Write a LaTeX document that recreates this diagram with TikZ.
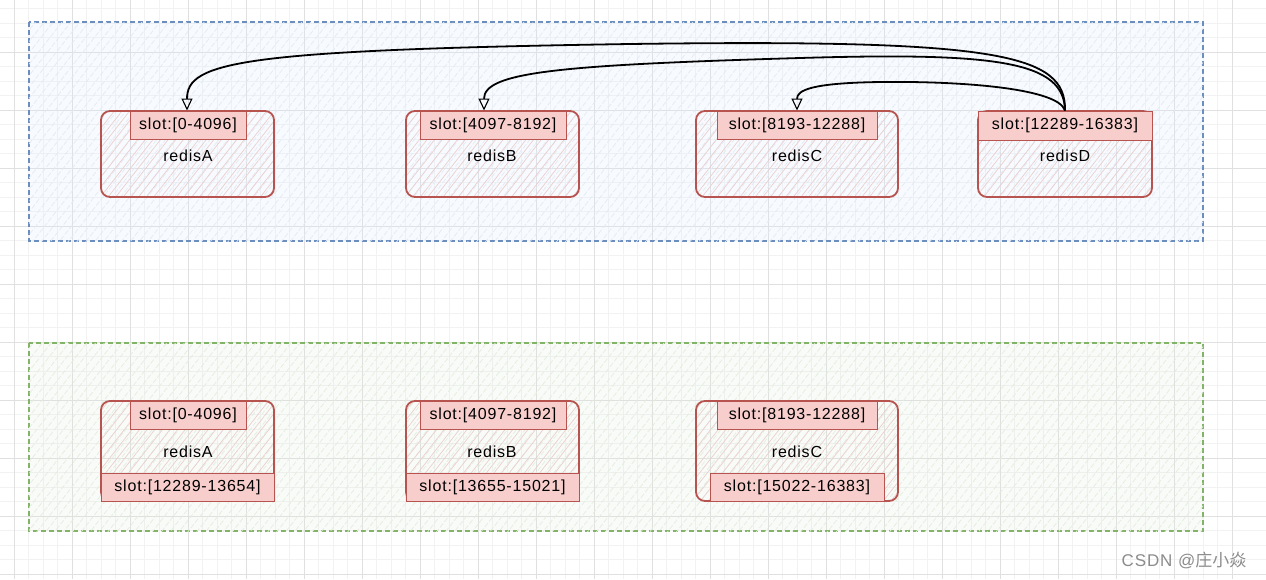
\documentclass[tikz,border=0pt]{standalone}
\usepackage{fontspec}
\setmainfont{Liberation Sans}[LetterSpace=5]
\newfontfamily\cjkfont{Noto Sans CJK SC}
\usetikzlibrary{patterns.meta,arrows.meta}
\definecolor{redline}{HTML}{B85450}
\definecolor{redfill}{HTML}{F8CECC}
\definecolor{blueline}{HTML}{6C8EBF}
\definecolor{bluefill}{HTML}{DAE8FC}
\definecolor{greenline}{HTML}{82B366}
\definecolor{greenfill}{HTML}{D5E8D4}
\tikzset{
  gridminor/.style={draw=black!5,line width=0.8pt},
  gridmajor/.style={draw=black!12,line width=0.9pt},
  bluecont/.style={draw=blueline,line width=1.3pt,dash pattern=on 5pt off 3pt,
    fill=bluefill,fill opacity=0.2,postaction={pattern={Lines[angle=52,distance=7pt,line width=0.7pt]},pattern color=blueline!18}},
  greencont/.style={draw=greenline,line width=1.3pt,dash pattern=on 5pt off 3pt,
    fill=greenfill,fill opacity=0.15,postaction={pattern={Lines[angle=52,distance=7pt,line width=0.7pt]},pattern color=greenline!22}},
  redbox/.style={draw=redline,line width=1.8pt,rounded corners=9pt,inner sep=0pt,
    pattern={Lines[angle=52,distance=6pt,line width=0.7pt]},pattern color=redline!28},
  hdr/.style={draw=redline,line width=1pt,fill=redfill,inner sep=0pt,minimum height=28pt,font=\fontsize{16}{18}\selectfont},
  lbl/.style={inner sep=0pt,font=\fontsize{16}{18}\selectfont},
  link/.style={draw=black,line width=1.8pt,-{Triangle[open,length=12pt,width=11pt,line width=1.1pt]}}
}
\begin{document}
\begin{tikzpicture}[x=1pt,y=-1pt]
\useasboundingbox (0,0) rectangle (1266,579);
\fill[white] (0,0) rectangle (1266,579);
% grid
\foreach \k in {0,...,88}{
  \pgfmathsetmacro{\gx}{14.3+(\k-4)*14.5}
  \draw[gridminor] (\gx,0) -- (\gx,579);
}
\foreach \k in {0,...,42}{
  \pgfmathsetmacro{\gy}{-5.7+\k*14.5}
  \draw[gridminor] (0,\gy) -- (1266,\gy);
}
\foreach \k in {0,...,22}{
  \pgfmathsetmacro{\gx}{14.3+(\k-1)*58}
  \draw[gridmajor] (\gx,0) -- (\gx,579);
}
\foreach \k in {0,...,10}{
  \pgfmathsetmacro{\gy}{-5.7+\k*58}
  \draw[gridmajor] (0,\gy) -- (1266,\gy);
}
% containers
\path[bluecont] (29,22) rectangle (1203,241);
\path[greencont] (29,343) rectangle (1203,531);

% ---- top row ----
\node[redbox,minimum width=173pt,minimum height=86pt] (bA) at (187.5,154) {};
\node[redbox,minimum width=173pt,minimum height=86pt] (bB) at (492.5,154) {};
\node[redbox,minimum width=202pt,minimum height=86pt] (bC) at (797,154) {};
\node[redbox,minimum width=174pt,minimum height=86pt] (bD) at (1065,154) {};
\node[hdr,minimum width=116pt] (hA) at (188,125) {slot:[0-4096]};
\node[hdr,minimum width=146pt] (hB) at (493,125) {slot:[4097-8192]};
\node[hdr,minimum width=160pt] (hC) at (797,125) {slot:[8193-12288]};
\node[hdr,minimum width=174pt,minimum height=29pt] (hD) at (1065,125.5) {slot:[12289-16383]};
\node[lbl] (lA) at (188,156) {redisA};
\node[lbl] (lB) at (492,156) {redisB};
\node[lbl] (lC) at (797,156) {redisC};
\node[lbl] (lD) at (1065,156) {redisD};

% arrows
\draw[link] (hD.north) .. controls (1066,54) and (1000,39) .. (630,44)
  .. controls (240,50) and (187,62) .. ([xshift=-1pt]hA.north);
\draw[link] (hD.north) .. controls (1064,62) and (1000,52) .. (800,58)
  .. controls (560,65) and (484,72) .. ([xshift=-9pt]hB.north);
\draw[link] (hD.north) .. controls (1058,88) and (960,81) .. (880,82)
  .. controls (812,83) and (797,90) .. (hC.north);

% ---- bottom row ----
\node[redbox,minimum width=173pt,minimum height=100pt] (cA) at (187.5,451) {};
\node[redbox,minimum width=173pt,minimum height=100pt] (cB) at (492.5,451) {};
\node[redbox,minimum width=202pt,minimum height=100pt] (cC) at (797,451) {};
\node[hdr,minimum width=116pt] (gA) at (188,415) {slot:[0-4096]};
\node[hdr,minimum width=146pt] (gB) at (493,415) {slot:[4097-8192]};
\node[hdr,minimum width=160pt] (gC) at (797,415) {slot:[8193-12288]};
\node[lbl] (mA) at (188,452) {redisA};
\node[lbl] (mB) at (492,452) {redisB};
\node[lbl] (mC) at (797,452) {redisC};
\node[hdr,minimum width=173pt] (fA) at (187.5,487) {slot:[12289-13654]};
\node[hdr,minimum width=173pt] (fB) at (492.5,487) {slot:[13655-15021]};
\node[hdr,minimum width=174pt] (fC) at (797,487) {slot:[15022-16383]};

% watermark
\node[inner sep=0pt,text=black!45,font=\fontsize{17}{19}\selectfont] (wm) at (1184,560) {CSDN @{\cjkfont 庄小焱}};
\end{tikzpicture}
\end{document}
